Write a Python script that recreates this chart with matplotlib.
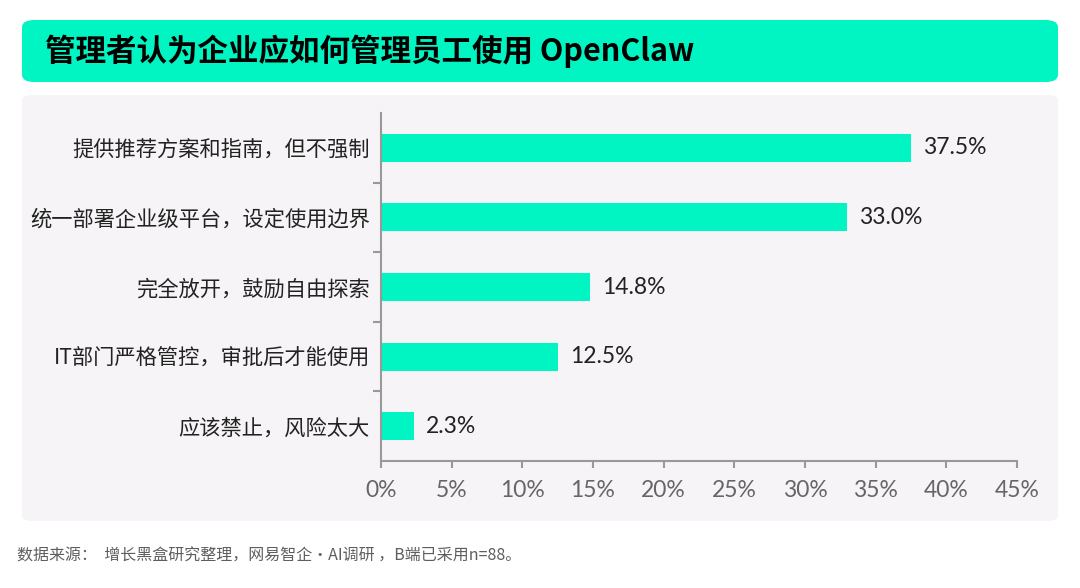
import matplotlib.pyplot as plt
from matplotlib.patches import FancyBboxPatch

plt.rcParams['font.family'] = ['Lato', 'Noto Sans CJK SC', 'DejaVu Sans']

# 数据
categories = ['提供推荐方案和指南，但不强制', '统一部署企业级平台，设定使用边界',
              '完全放开，鼓励自由探索', 'IT部门严格管控，审批后才能使用', '应该禁止，风险太大']
values = [37.5, 33.0, 14.8, 12.5, 2.3]
xticks = [0, 5, 10, 15, 20, 25, 30, 35, 40, 45]

title = '管理者认为企业应如何管理员工使用 OpenClaw'
source = '数据来源：  增长黑盒研究整理，网易智企·AI调研 ，B端已采用n=88。'

mint = '#00F5C3'

fig = plt.figure(figsize=(10.8, 5.88), dpi=100)
fig.patch.set_facecolor('white')

# 标题底色和面板
W, H = 1080, 588
title_box = FancyBboxPatch((22 / W, 1 - 82 / H), 1036 / W, 62 / H,
                           boxstyle='round,pad=0,rounding_size=0.012',
                           transform=fig.transFigure, facecolor=mint, edgecolor='none',
                           zorder=-2)
panel = FancyBboxPatch((22 / W, 1 - 521 / H), 1036 / W, 426 / H,
                       boxstyle='round,pad=0,rounding_size=0.01',
                       transform=fig.transFigure, facecolor='#F6F4F6', edgecolor='none',
                       zorder=-2)
fig.patches.extend([title_box, panel])

fig.text(45 / W, 1 - 51 / H, title, fontsize=22, fontweight='heavy',
         family=['Noto Sans CJK SC', 'DejaVu Sans'], va='center', ha='left', color='black')
fig.text(17 / W, 1 - 556 / H, source, fontsize=11.5, color='#5E5E5E',
         family=['Noto Sans CJK SC', 'DejaVu Sans'], va='center', ha='left')

ax = fig.add_axes([381 / W, 1 - 461 / H, 636 / W, 348 / H])
ax.set_facecolor('none')

y = list(range(len(categories)))
ax.barh(y, values, height=0.4, color=mint)
for yi, v in zip(y, values):
    ax.text(v + 0.85, yi, f'{v:.1f}%', va='center', ha='left', fontsize=16.5,
            color='#222222')

ax.set_xlim(0, 45)
ax.set_ylim(len(categories) - 0.5, -0.5)
ax.set_xticks(xticks)
ax.set_xticklabels([f'{t}%' for t in xticks], fontsize=16.5, color='#666666')
ax.set_yticks(y)
ax.set_yticklabels(categories, fontsize=15.3, color='#222222',
                   family=['Noto Sans CJK SC', 'DejaVu Sans'])
ax.tick_params(axis='y', length=0, pad=8)
ax.set_yticks([i + 0.5 for i in range(len(categories) - 1)], minor=True)
ax.tick_params(axis='y', which='minor', length=6, color='#999999', width=1.5)
ax.tick_params(axis='x', length=5, color='#999999', width=1.5, pad=9)

for s in ['top', 'right']:
    ax.spines[s].set_visible(False)
for s in ['left', 'bottom']:
    ax.spines[s].set_color('#999999')
    ax.spines[s].set_linewidth(1.5)

plt.savefig('out.png', dpi=100)
